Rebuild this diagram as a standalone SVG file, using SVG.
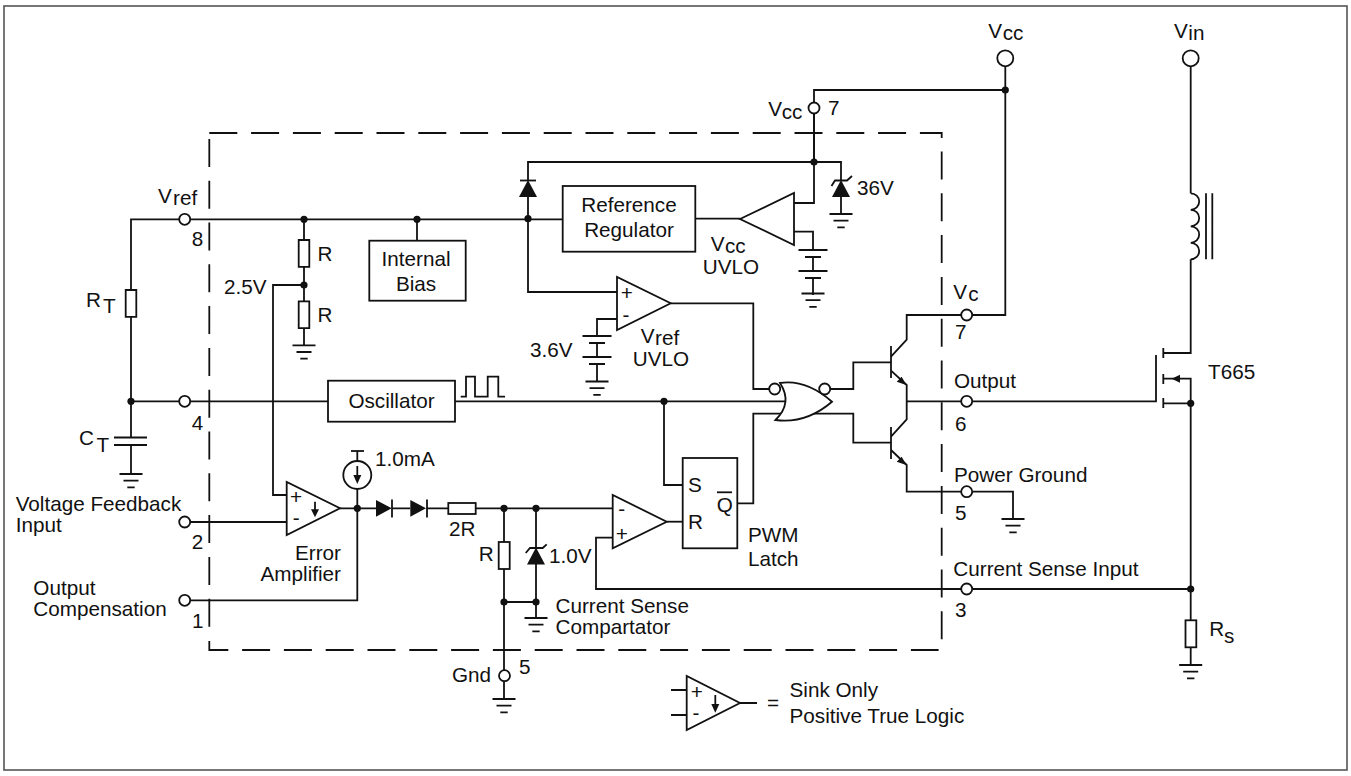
<svg xmlns="http://www.w3.org/2000/svg" xmlns:xlink="http://www.w3.org/1999/xlink" width="1351" height="776" viewBox="0 0 1351 776">
<style>
text{font-family:"Liberation Sans",Arial,sans-serif;font-size:20.7px;fill:#111}
.w{fill:none;stroke:#111;stroke-width:1.8}
.b{fill:#fff;stroke:#111;stroke-width:1.8}
.k{fill:#111;stroke:none}
.d{fill:none;stroke:#111;stroke-width:1.8;stroke-dasharray:28 13.8}
.m{text-anchor:middle}
.e{text-anchor:end}
</style>
<defs>
<g id="gnd" class="w"><path d="M-11.5 0H11.5M-7.5 6.7H7.5M-3.7 13.3H3.7"/></g>
<circle id="dot" r="3.6" class="k"/>
<circle id="pin" r="5.5" class="b"/>
<path id="res" d="M-5.3 -13.4H5.3V13.4H-5.3Z" class="b"/>
<g id="batt" class="w"><path d="M-14.5 0H14.5M-8 7H8M0 7V21M-14.5 21H14.5M-8 28H8M0 28V45"/></g>
<path id="zener" class="k" d="M0 0L9 17H-9Z"/>
</defs>
<rect id="frame" x="4" y="6" width="1343" height="764" fill="#fff" stroke="#555" stroke-width="1.6"/>
<g id="chip-boundary">
<path class="d" d="M209.3 133H941.7V138"/>
<path class="d" d="M941.7 151.5V640"/>
<path class="d" d="M209.3 641V650H938.6"/>
<path class="d" d="M209.3 138.9V627"/>
</g>
<g id="connectors">
<path class="w" d="M1005.3 66V315H972"/>
<path class="w" d="M1005.3 90H814V162"/>
<path class="w" d="M814 113V203H794"/>
<path class="w" d="M528 181V162H841V181M841 197V214"/>
<path class="w" d="M528 197V292H617"/>
<path class="w" d="M190 219.3H562.7"/>
<path class="w" d="M179 219.3H131V290M131 316.7V437"/>
<path class="w" d="M304 219.3V240M304 267V302M304 328V345.3"/>
<path class="w" d="M417 219.3V240.7"/>
<path class="w" d="M304 285H273V495H286.7"/>
<path class="w" d="M695.3 218.7H740"/>
<path class="w" d="M794 231.7H813V250"/>
<path class="w" d="M670.7 303.3H753.3V389H770"/>
<path class="w" d="M617 319H597V336"/>
<path class="w" d="M131 401.3H179M190 401.3H328M455 401.3H785"/>
<path class="w" d="M664 401.3V485H682.7"/>
<path class="w" d="M131 445V474"/>
<path class="w" d="M190 522H286.7"/>
<path class="w" d="M340 508.3H376M392 508.3H410.3M427 508.3H448.3M475.7 508.3H612.7"/>
<path class="w" d="M357.3 451V461M357.3 489V600.3H190"/>
<path class="w" d="M504 508.3V542M504 569V670M504 681V699M504 602H536M536 508.3V548M536 564V618"/>
<path class="w" d="M666.7 521.7H682.7"/>
<path class="w" d="M737.3 503.3H753.3V413.7H782"/>
<path class="w" d="M612.7 537.7H596V589H961M972 589H1190.7"/>
<path class="w" d="M820 389H853.3V362.3H891M812 413.7H853.3V442.7H891"/>
<path class="w" d="M891 356.7L906.7 339.7V315H961"/>
<path class="w" d="M891 370.7L906.7 385V419.3L891 436.7"/>
<path class="w" d="M906.7 401.3H961M972 401.3H1156V355"/>
<path class="w" d="M891 450L906.7 465V491.7H961M972 491.7H1013V519"/>
<path class="w" d="M1190.7 66V193.3"/>
<path class="w" d="M1190.7 259.3V353H1163.3"/>
<path class="w" d="M1163.3 378.7H1190.7V620.3M1163.3 403.3H1190.7M1190.7 647.3V665"/>
</g>
<g id="vcc-supply"><circle cx="1005.3" cy="58.3" r="8" class="b"/><use href="#dot" x="1005.3" y="90"/><text x="988.3" y="38.3">V<tspan x="1002.7" y="40.3">cc</tspan></text></g>
<g id="vin-supply"><circle cx="1190.7" cy="58.3" r="8" class="b"/><text x="1174" y="38.3">V<tspan x="1188.3" y="40.3">in</tspan></text></g>
<g id="pin-vcc"><use href="#pin" x="814" y="108"/><use href="#dot" x="814" y="162"/><text x="768.3" y="116">V<tspan x="781.7" y="118.7">cc</tspan></text><text x="828" y="115">7</text></g>
<g id="zener-36v"><use href="#zener" x="841" y="180"/><path class="w" d="M831.5 186L835 180.5H847L852 176"/><use href="#gnd" x="841" y="214"/><text x="857" y="195">36V</text></g>
<g id="diode-top"><use href="#zener" x="528" y="180"/><path class="w" d="M520 180.5H536"/><use href="#dot" x="528" y="218.7"/></g>
<g id="reference-regulator"><rect x="562.7" y="186" width="132.6" height="65.7" class="b"/><text class="m" x="629" y="211.7">Reference</text><text class="m" x="629" y="236.7">Regulator</text></g>
<g id="vcc-uvlo"><path class="b" d="M740 219L794 193V245Z"/><text x="710.7" y="250.7">V<tspan x="725" y="252.5">cc</tspan></text><text x="702.7" y="273.5">UVLO</text></g>
<g id="vcc-uvlo-ref"><use href="#batt" x="813" y="250"/><use href="#gnd" x="813" y="293.5"/></g>
<g id="pin-vref"><use href="#pin" x="184.7" y="219.3"/><text x="158" y="203">V<tspan x="173" y="205.3">ref</tspan></text><text x="191.7" y="246">8</text></g>
<g id="divider"><use href="#dot" x="304" y="219.3"/><use href="#res" x="304" y="253.4"/><use href="#dot" x="304" y="285"/><use href="#res" x="304" y="314.7"/><use href="#gnd" x="304" y="345.3"/><text x="317.5" y="260.7">R</text><text x="317.5" y="322">R</text><text x="224" y="294">2.5V</text></g>
<g id="internal-bias"><use href="#dot" x="417" y="219.3"/><rect x="369.3" y="240.7" width="96.4" height="60" class="b"/><text class="m" x="416" y="265.7">Internal</text><text class="m" x="416" y="290.7">Bias</text></g>
<g id="vref-uvlo"><path class="b" d="M617 277V330L670.7 303.3Z"/><text x="620.7" y="300">+</text><text x="622.5" y="321.7">-</text><text x="640.7" y="342.7">V<tspan x="655" y="345">ref</tspan></text><text x="632.7" y="365.7">UVLO</text><text x="530" y="356.7">3.6V</text><use href="#batt" x="597" y="336"/><use href="#gnd" x="597" y="381.5"/></g>
<g id="rt"><use href="#res" x="131" y="303.4"/><text x="86" y="306.7">R<tspan x="103" y="313">T</tspan></text></g>
<g id="ct"><use href="#dot" x="131" y="401.3"/><path class="w" d="M114 437.5H147M114 445H147"/><use href="#gnd" x="131" y="474"/><text x="79" y="445">C<tspan x="96.5" y="451.7">T</tspan></text></g>
<g id="pin-4"><use href="#pin" x="184.7" y="401.3"/><text x="191.7" y="430">4</text></g>
<g id="oscillator"><rect x="328" y="380.7" width="127" height="41" class="b"/><text class="m" x="391.5" y="408">Oscillator</text><path class="w" d="M460.7 396.7H466V376.7H475V396.7H487.7V376.7H498.3V396.7H505"/></g>
<g id="pin-2"><use href="#pin" x="184.7" y="522"/><text x="15.7" y="511">Voltage Feedback</text><text x="15.7" y="531.7">Input</text><text x="191.7" y="549">2</text></g>
<g id="pin-1"><use href="#pin" x="184.7" y="600.3"/><text x="33.3" y="595">Output</text><text x="33.3" y="616">Compensation</text><text x="192" y="628">1</text></g>
<g id="error-amplifier"><path class="b" d="M286.7 482V535L340 508.3Z"/><text x="290" y="504">+</text><text x="292.7" y="524.7">-</text><path class="w" d="M315 501.7V510"/><path class="k" d="M315 517.3L311 509.3H319Z"/><text class="e" x="341" y="560">Error</text><text class="e" x="341" y="581">Amplifier</text></g>
<g id="current-source"><path class="w" d="M351 451H364"/><circle cx="357.3" cy="475" r="14" class="b"/><path class="w" d="M357.3 466V476"/><path class="k" d="M357.3 484L353.3 475H361.3Z"/><use href="#dot" x="357.3" y="508.3"/><text x="375" y="466">1.0mA</text></g>
<g id="diode-1"><path class="k" d="M376 500V516.7L391.7 508.3Z"/><path class="w" d="M392 499.5V517.5"/></g>
<g id="diode-2"><path class="k" d="M410.3 500V516.7L426 508.3Z"/><path class="w" d="M427 499.5V517.5"/></g>
<g id="resistor-2r"><rect x="448.3" y="503" width="27.4" height="11" class="b"/><text x="449" y="536">2R</text></g>
<g id="resistor-r"><use href="#dot" x="504" y="508.3"/><rect x="498.7" y="542" width="11" height="27" class="b"/><use href="#dot" x="504" y="602"/><text x="478.7" y="560.5">R</text></g>
<g id="zener-1v"><use href="#dot" x="536" y="508.3"/><use href="#zener" x="536" y="547.5"/><path class="w" d="M525.7 553L530 548H542.7L546.7 544.3"/><use href="#dot" x="536" y="602"/><use href="#gnd" x="536" y="618"/><text x="549" y="563.3">1.0V</text><text x="555.5" y="613.3">Current Sense</text><text x="555.5" y="634">Compartator</text></g>
<g id="pin-gnd"><use href="#pin" x="504.5" y="675.7"/><use href="#gnd" x="504" y="699"/><text x="452" y="681.7">Gnd</text><text x="519" y="674">5</text></g>
<g id="current-comparator"><path class="b" d="M612.7 495V548.3L666.7 521.7Z"/><text x="618.2" y="516.4">-</text><text x="615.7" y="541">+</text></g>
<use href="#dot" x="664" y="401.3"/>
<g id="pwm-latch"><rect x="682.7" y="458" width="54.6" height="90.3" class="b"/><text x="688" y="491.7">S</text><text x="688" y="529">R</text><text x="716.7" y="511.7">Q</text><path class="w" d="M717 492.3H732"/><text x="748" y="541.5">PWM</text><text x="748" y="565.7">Latch</text></g>
<g id="nor-gate"><path class="b" d="M780 383Q806 379 832 401.7Q806 424 775.5 420Q793 403 780 383Z"/><use href="#pin" x="774.7" y="389"/><use href="#pin" x="824.7" y="389"/></g>
<g id="transistor-upper"><path class="w" d="M891 346V378"/><path class="k" d="M906.3 385L896.7 381.7L901.7 376.7Z"/></g>
<g id="transistor-lower"><path class="w" d="M891 427V459"/><path class="k" d="M906.3 465L896.7 461.7L901.7 456.7Z"/></g>
<g id="pin-vc"><use href="#pin" x="966.7" y="315"/><text x="953.3" y="299">V<tspan x="968.3" y="300.7">c</tspan></text><text x="955" y="339">7</text></g>
<g id="pin-output"><use href="#pin" x="966.7" y="401.3"/><text x="954" y="388">Output</text><text x="955" y="431">6</text></g>
<g id="pin-power-ground"><use href="#pin" x="966.7" y="491.7"/><use href="#gnd" x="1013" y="519"/><text x="954" y="482">Power Ground</text><text x="955" y="520">5</text></g>
<g id="pin-current-sense"><use href="#pin" x="966.7" y="589"/><text x="953.3" y="576">Current Sense Input</text><text x="955" y="617.3">3</text></g>
<g id="inductor"><path class="w" d="M1190.7 193.3a8.5 8.25 0 0 1 0 16.5a8.5 8.25 0 0 1 0 16.5a8.5 8.25 0 0 1 0 16.5a8.5 8.25 0 0 1 0 16.5M1206 193.3V259.3M1212.3 193.3V259.3"/></g>
<g id="mosfet"><path class="w" d="M1163.3 348V358M1163.3 374V384M1163.3 398V408"/><path class="k" d="M1171.7 378.7L1180 374.7V382.7Z"/><use href="#dot" x="1190.7" y="403.3"/><text x="1208" y="379">T665</text></g>
<g id="rs"><use href="#dot" x="1190.7" y="589"/><rect x="1185.5" y="620.3" width="10.8" height="27" class="b"/><use href="#gnd" x="1190.7" y="665"/><text x="1209.3" y="636">R<tspan x="1224" y="642.7">s</tspan></text></g>
<g id="legend"><path class="w" d="M671 690H686.7M671 715H686.7M740 703H757"/><path class="b" d="M686.7 676V730L740 703Z"/><text x="690.7" y="699">+</text><text x="692.5" y="720">-</text><path class="w" d="M715.3 695V705"/><path class="k" d="M715.3 712.7L711.3 704H719.3Z"/><text x="767" y="710">=</text><text x="789.5" y="697">Sink Only</text><text x="789.5" y="722.7">Positive True Logic</text></g>
</svg>
